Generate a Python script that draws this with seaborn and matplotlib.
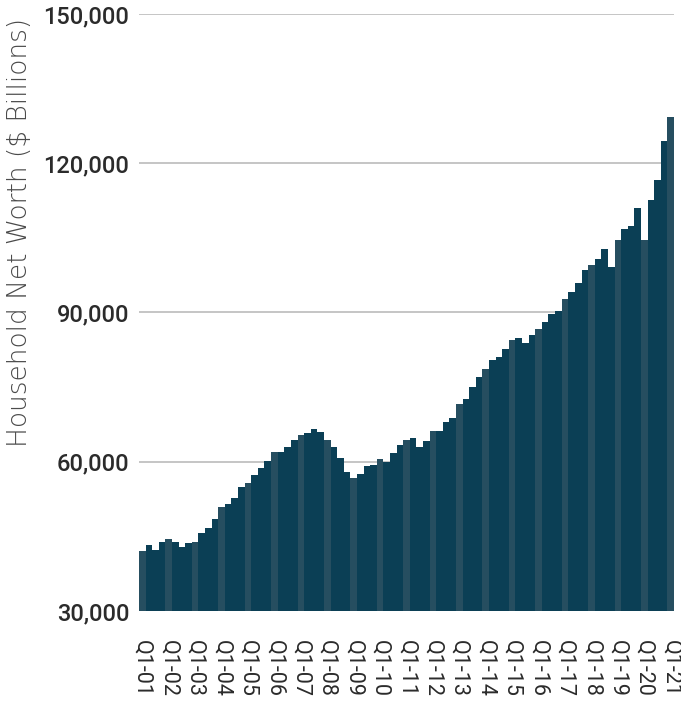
import seaborn as sns
import matplotlib.pyplot as plt
import pandas as pd

# Quarterly household net worth, Q1 2001 .. Q1 2021 ($ billions)
quarters = [f"Q{q}-{y:02d}" for y in range(1, 22) for q in range(1, 5)][:81]
net_worth = [
    42060, 43270, 42260, 43870,
    44470, 43870, 42860, 43670,
    43870, 45680, 46680, 48490,
    50900, 51500, 52710, 54920,
    55730, 57340, 58740, 60150,
    61960, 61960, 62960, 64370,
    65380, 65780, 66580, 65980,
    64370, 62960, 60750, 57940,
    56730, 57540, 59150, 59350,
    60550, 59950, 61760, 63370,
    64370, 64770, 62960, 64170,
    66180, 66180, 67990, 68790,
    71610, 72610, 75020, 77030,
    78640, 80450, 81050, 82660,
    84470, 84870, 83870, 85480,
    86680, 88090, 89700, 90300,
    92710, 94120, 95930, 98540,
    99550, 100750, 102760, 99140,
    104570, 106780, 107390, 111000,
    104570, 112610, 116630, 124470,
    129290,
]
tick_labels = ["Q1-01", "Q1-02", "Q1-03", "Q1-04", "Q1-05", "Q1-06", "Q1-07",
               "Q1-08", "Q1-09", "Q1-10", "Q1-11", "Q1-12", "Q1-13", "Q1-14",
               "Q1-15", "Q1-16", "Q1-17", "Q1-18", "Q1-19", "Q1-20", "Q1-21"]

df = pd.DataFrame({"quarter": quarters, "value": net_worth})
df["first_q"] = df["quarter"].str.startswith("Q1")

sns.set_theme(style="white")
plt.rcParams["font.family"] = ["Roboto", "DejaVu Sans"]

fig = plt.figure(figsize=(6.81, 7.03), dpi=100)
ax = fig.add_axes([0.2041, 0.1309, 0.7856, 0.8492])

sns.barplot(data=df, x="quarter", y="value", hue="first_q",
            palette={True: "#264e60", False: "#0b3f55"}, saturation=1,
            dodge=False, width=1.0, linewidth=0, legend=False, ax=ax)

ax.set_ylim(30000, 150000)
ax.set_xlim(-0.5, len(quarters) - 0.5)
ax.set_yticks(range(30000, 150001, 30000))
ax.set_yticklabels([f"{v:,}" for v in range(30000, 150001, 30000)],
                   fontsize=17, color="#2b2b2b", fontweight="medium")
ax.set_xticks(range(0, len(quarters), 4))
ax.set_xticklabels(tick_labels, rotation=270, fontsize=15.5, color="#2b2b2b")
ax.tick_params(axis="y", length=0, pad=7)
ax.tick_params(axis="x", length=0, pad=21)

ax.yaxis.grid(True, color="#c0c0c0", linewidth=1.3)
ax.set_axisbelow(True)
sns.despine(ax=ax, left=True, bottom=True)
ax.set_xlabel("")
ax.set_ylabel("")

fig.text(20 / 681, 1 - 232 / 703, "Household Net Worth ($ Billions)",
         rotation=90, ha="center", va="center", fontsize=19,
         color="#4a4a4a", family="DejaVu Sans", fontweight="light")

plt.savefig("out.png", dpi=100)
